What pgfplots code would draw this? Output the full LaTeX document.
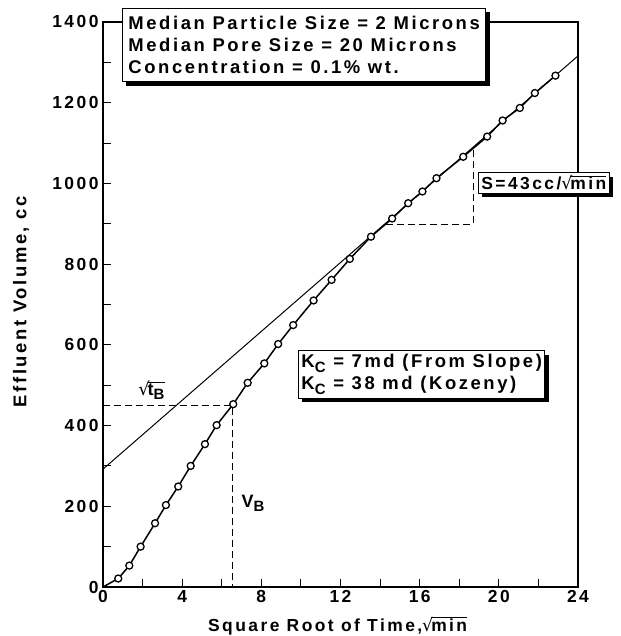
\documentclass[border=0pt]{standalone}
\usepackage{fontspec}
\setmainfont{Liberation Sans}[LetterSpace=14]
\newfontfamily\djv{DejaVu Sans}
\usepackage{pgfplots}
\pgfplotsset{compat=1.18}
\usetikzlibrary{shadows}
\newcommand{\sub}[1]{\raisebox{-0.45ex}{\fontsize{15}{15}\selectfont #1}}
\newcommand{\myroot}[1]{{\djv\mdseries √}\kern-0.12em\vbox{\hrule height 0.9pt\kern 0.6pt\hbox{#1}}}
\pgfplotstableread{
x y
0 0
0.77 21
1.33 53
1.90 100
2.63 158
3.18 203
3.80 249
4.43 300
5.15 354
5.74 401
6.58 453
7.31 506
8.15 554
8.85 602
9.61 649
10.64 710
11.55 761
12.47 813
13.54 868
14.61 913
15.42 951
16.14 980
16.85 1013
18.20 1066
19.41 1116
20.19 1156
21.06 1187
21.82 1224
22.86 1267
}\datatable
\tikzset{shbox/.style={draw, line width=1bp, fill=white,
  drop shadow={shadow xshift=4bp, shadow yshift=-4bp, fill=black, opacity=1},
  align=left, font=\bfseries\fontsize{18.5}{22}\selectfont, inner xsep=5bp, inner ysep=5bp}}
\begin{document}
\begin{tikzpicture}
\path (-103bp,-49bp) rectangle (518bp,587bp);
\begin{axis}[at={(0,0)}, anchor=south west, scale only axis, width=475bp, height=565bp,
 xmin=0, xmax=24, ymin=0, ymax=1400,
 xtick={0,4,...,24}, minor xtick={2,6,...,22},
 ytick={0,200,...,1400}, minor ytick={100,300,...,1300},
 tick align=inside, xtick pos=bottom, ytick pos=left,
 major tick length=8bp, minor tick length=8bp,
 tick style={line width=1bp, black},
 axis line style={line width=1.3bp},
 /pgf/number format/assume math mode=true,
 /pgf/number format/set thousands separator={},
 ticklabel style={font=\bfseries\fontsize{17.5}{17.5}\selectfont},
 xticklabel style={yshift=0bp},
 yticklabel style={xshift=-1bp},
 xlabel={Square Root of Time,\myroot{min}},
 ylabel={Effluent Volume, cc},
 xlabel style={font=\bfseries\fontsize{17.5}{17.5}\selectfont, inner sep=1bp, at={(axis description cs:0.494,-0.0785)}, anchor=base},
 ylabel style={font=\bfseries\fontsize{18.5}{18.5}\selectfont, at={(axis description cs:-0.1726,0.505)}, anchor=center},
 clip=false]
\addplot[line width=1bp, black] coordinates {(0,292) (24,1316)};
\addplot[line width=1.5bp, black, mark=*, mark size=3.5bp,
  mark options={fill=white, line width=1.3bp}, mark indices={2,...,29}] table[x=x,y=y] {\datatable};
\addplot[line width=0.9bp, black, dash pattern=on 7bp off 4bp] coordinates {(0,450) (6.55,450) (6.55,0)};
\addplot[line width=0.9bp, black, dash pattern=on 7bp off 4bp] coordinates {(14.3,899) (18.7,899) (18.7,1082)};
\node[font=\bfseries\fontsize{18}{18}\selectfont] at (axis cs:2.45,488) {\myroot{t\sub{B}}};
\node[font=\bfseries\fontsize{18}{18}\selectfont] at (axis cs:7.58,208) {V\sub{B}};
\node[shbox, anchor=north west, inner ysep=8bp, inner xsep=6bp] at (axis cs:0.96,1435) {Median Particle Size = 2 Microns\\Median Pore Size = 20 Microns\\Concentration = 0.1\% wt.};
\node[shbox, anchor=north west, inner ysep=4bp, inner xsep=3bp] at (axis cs:9.85,587) {K\sub{C} = 7md (From Slope)\\K\sub{C} = 38 md (Kozeny)};
\node[shbox, anchor=north west, inner ysep=3bp, inner xsep=3bp, font=\bfseries\fontsize{17.5}{20}\selectfont] at (axis cs:18.94,1028) {S=43cc/\myroot{min}};
\end{axis}
\end{tikzpicture}
\end{document}
